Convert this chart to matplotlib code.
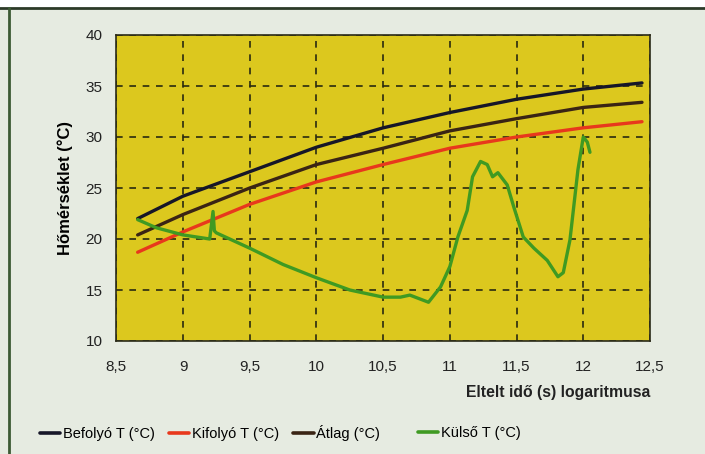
import numpy as np
import matplotlib.pyplot as plt
from matplotlib.lines import Line2D
from matplotlib.ticker import FuncFormatter

plt.rcParams['font.family'] = ['Liberation Sans', 'DejaVu Sans']

# --- Daten ------------------------------------------------------------------
x_smooth = [8.66, 9.0, 9.5, 10.0, 10.5, 11.0, 11.5, 12.0, 12.44]
befolyo  = [22.0, 24.2, 26.6, 29.0, 30.9, 32.4, 33.7, 34.7, 35.3]
atlag    = [20.4, 22.4, 25.0, 27.3, 28.9, 30.6, 31.8, 32.9, 33.4]
kifolyo  = [18.7, 20.7, 23.4, 25.6, 27.3, 28.9, 30.0, 30.9, 31.5]

x_kulso = [8.66, 8.80, 9.00, 9.20, 9.225, 9.235, 9.25, 9.50, 9.75, 10.0,
           10.25, 10.50, 10.63, 10.70, 10.78, 10.84, 10.93, 11.00, 11.06,
           11.13, 11.17, 11.23, 11.28, 11.32, 11.36, 11.43, 11.48, 11.55,
           11.63, 11.73, 11.81, 11.85, 11.90, 11.96, 12.00, 12.03, 12.05]
kulso   = [21.9, 21.1, 20.4, 20.0, 22.7, 20.8, 20.6, 19.1, 17.5, 16.2,
           15.0, 14.3, 14.3, 14.5, 14.1, 13.8, 15.3, 17.3, 20.2,
           22.8, 26.1, 27.6, 27.3, 26.1, 26.5, 25.3, 23.1, 20.2,
           19.1, 17.9, 16.3, 16.7, 19.9, 26.8, 30.0, 29.5, 28.5]

xticks = [8.5, 9, 9.5, 10, 10.5, 11, 11.5, 12, 12.5]
yticks = [10, 15, 20, 25, 30, 35, 40]
labels = ['Befolyó T (°C)', 'Kifolyó T (°C)', 'Átlag (°C)', 'Külső T (°C)']

c_bef, c_kif, c_atl, c_kul = '#161628', '#e8381c', '#3a2414', '#3f9a22'

# --- Abbildung --------------------------------------------------------------
fig = plt.figure(figsize=(7.05, 4.54), dpi=100)
fig.patch.set_facecolor('#e6ebe1')
# weisser Streifen oben + Rahmenlinien
fig.add_artist(plt.Rectangle((0, 1 - 8/454), 1, 8/454, transform=fig.transFigure,
                             color='white', zorder=0))
fig.add_artist(Line2D([0, 1], [1 - 8/454, 1 - 8/454], color='#2c3a28', lw=2,
                      transform=fig.transFigure))
fig.add_artist(Line2D([9/705, 9/705], [0, 1 - 8/454], color='#3c5a34', lw=2,
                      transform=fig.transFigure))

ax = fig.add_axes([116.3/705, 1 - 341/454, (650 - 116.3)/705, (341 - 35)/454])
ax.set_facecolor('#dcc81e')
ax.set_xlim(8.5, 12.5)
ax.set_ylim(10, 40)
ax.set_xticks(xticks)
ax.set_yticks(yticks)
ax.xaxis.set_major_formatter(FuncFormatter(lambda v, p: ('%g' % v).replace('.', ',')))
ax.tick_params(length=0, labelsize=11, colors='#222222')
ax.tick_params(axis='x', pad=14)
ax.tick_params(axis='y', pad=10)
ax.grid(True, color='#2a2a10', ls=(0, (4, 4)), lw=1.2)
for s in ax.spines.values():
    s.set_color('#2a2a18')
    s.set_linewidth(1.2)

l1, = ax.plot(x_smooth, befolyo, color=c_bef, lw=2.4, solid_capstyle='round')
l2, = ax.plot(x_smooth, kifolyo, color=c_kif, lw=2.4, solid_capstyle='round')
l3, = ax.plot(x_smooth, atlag, color=c_atl, lw=2.4, solid_capstyle='round')
l4, = ax.plot(x_kulso, kulso, color=c_kul, lw=2.4, solid_capstyle='round',
              solid_joinstyle='round')

ax.set_ylabel('Hőmérséklet (°C)', fontsize=12, fontweight='bold', labelpad=9)
fig.text(650/705, 1 - 393/454, 'Eltelt idő (s) logaritmusa', ha='right',
         va='center', fontsize=11.3, fontweight='bold', color='#222222')

leg_kw = dict(frameon=False, fontsize=10.5, handlelength=1.4,
              handletextpad=0.15, columnspacing=1.0, borderaxespad=0,
              borderpad=0)
leg1 = fig.legend([l1, l2, l3], labels[:3], loc='center left',
                  bbox_to_anchor=(40/705, 1 - 433/454), ncol=3, **leg_kw)
leg2 = fig.legend([l4], labels[3:], loc='center left',
                  bbox_to_anchor=(418/705, 1 - 433/454), **leg_kw)
for lg in (leg1, leg2):
    for h in lg.legend_handles:
        h.set_linewidth(2.6)

fig.savefig('out.png', dpi=100, facecolor=fig.get_facecolor())
